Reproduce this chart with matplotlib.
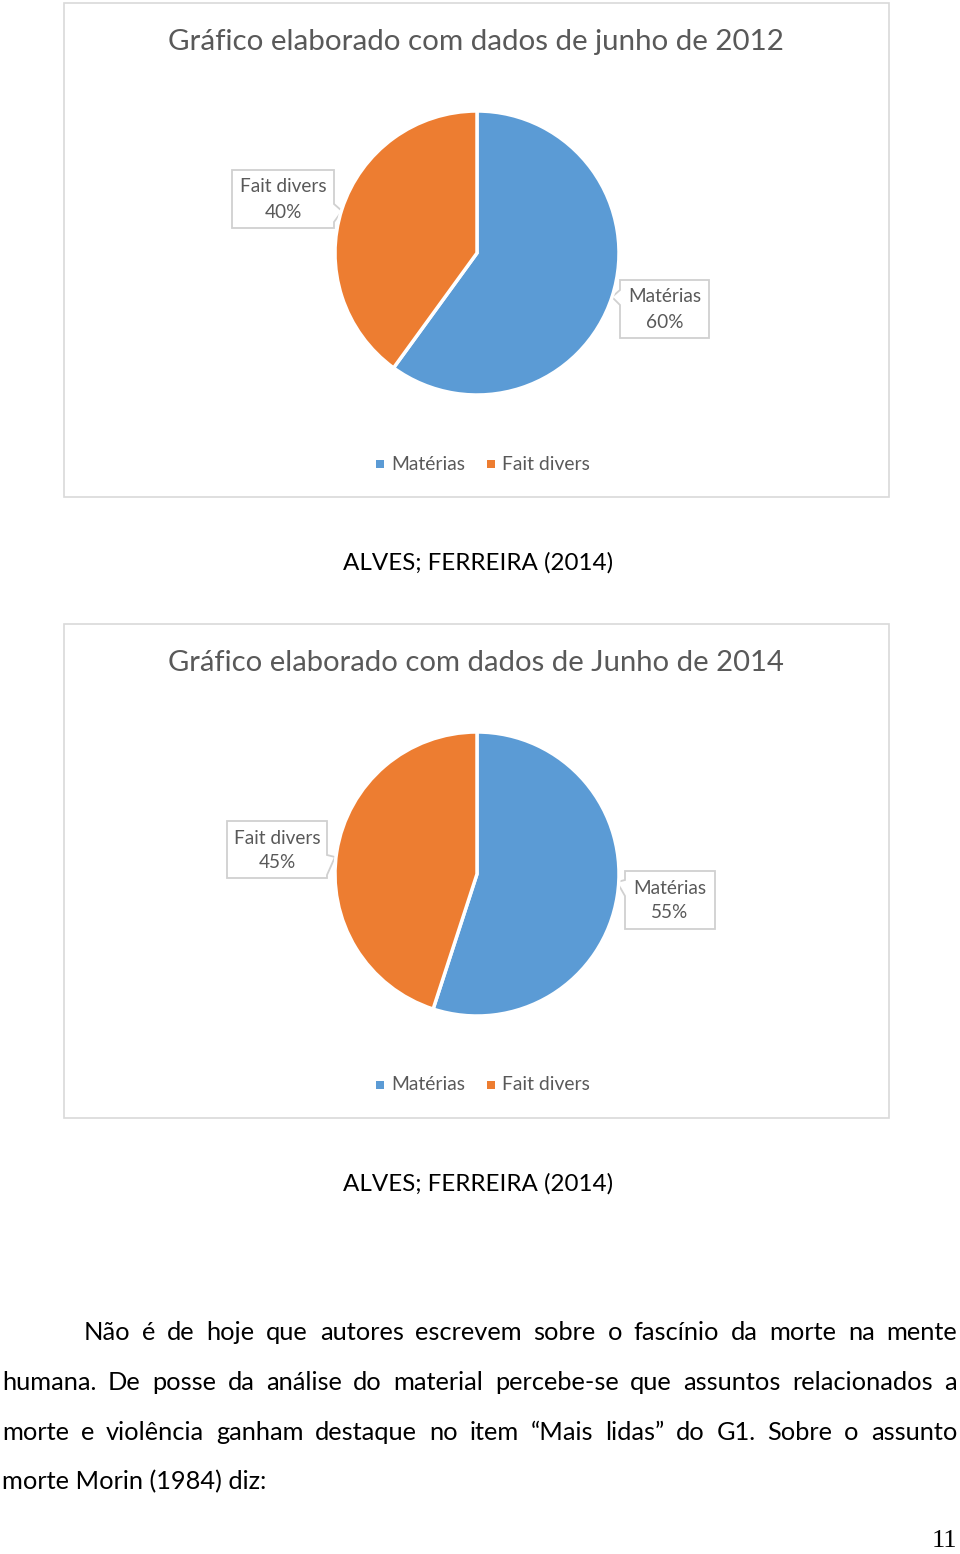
import matplotlib
matplotlib.use("Agg")
import matplotlib.pyplot as plt
from matplotlib.patches import Rectangle, Polygon

# ---------------- data ----------------
categories = ["Matérias", "Fait divers"]
values_2012 = [60, 40]
values_2014 = [55, 45]
titles = ["Gráfico elaborado com dados de junho de 2012",
          "Gráfico elaborado com dados de Junho de 2014"]
caption = "ALVES; FERREIRA (2014)"
paragraph_lines = [
    "Não é de hoje que autores escrevem sobre o fascínio da morte na mente",
    "humana. De posse da análise do material percebe-se que assuntos relacionados a",
    "morte e violência ganham destaque no item “Mais lidas” do G1. Sobre o assunto",
    "morte Morin (1984) diz:",
]
page_number = "11"

colors = ["#5B9BD5", "#ED7D31"]
FONT = "Lato"
W, H = 960, 1554

fig = plt.figure(figsize=(W / 100, H / 100), dpi=100)
bg = fig.add_axes([0, 0, 1, 1])
bg.set_xlim(0, W)
bg.set_ylim(H, 0)
bg.axis("off")
renderer = fig.canvas.get_renderer()


def fit_text(x, y, s, width, ha="left", **kw):
    t = bg.text(x, y, s, ha=ha, fontsize=10, family=FONT, **kw)
    w = t.get_window_extent(renderer).width
    t.set_fontsize(10 * width / w)
    return t


def callout(x0, y0, x1, y1, side, b0, b1, tip):
    if side == "right":
        verts = [(x0, y0), (x1, y0), (x1, b0), tip, (x1, b1), (x1, y1), (x0, y1)]
    else:
        verts = [(x0, y0), (x1, y0), (x1, y1), (x0, y1), (x0, b1), tip, (x0, b0)]
    bg.add_patch(Polygon(verts, closed=True, facecolor="white",
                         edgecolor="#D0D0D0", lw=1.3, zorder=5))


charts = [
    dict(values=values_2012, title=titles[0], top=3, cy=253,
         callouts=[
             (1, (232, 170, 334, 228), "right", (204, 222), (342, 211)),
             (0, (620, 280, 709, 338), "left", (290, 305), (612, 297)),
         ]),
    dict(values=values_2014, title=titles[1], top=624, cy=874,
         callouts=[
             (1, (227, 821, 327, 878), "right", (855, 875), (335, 857)),
             (0, (625, 871, 715, 929), "left", (880, 896), (617, 882)),
         ]),
]

R = 142
CX = 477
for ch in charts:
    top = ch["top"]
    bg.add_patch(Rectangle((64, top), 825, 494, fill=False,
                           edgecolor="#D9D9D9", lw=1.2))
    fit_text(476, top + 39, ch["title"], 617, ha="center", va="center",
             color="#595959")

    cy = ch["cy"]
    pad = 1.0
    ax = fig.add_axes([(CX - R * pad) / W, 1 - (cy + R * pad) / H,
                       2 * R * pad / W, 2 * R * pad / H])
    ax.pie(ch["values"], colors=colors, startangle=90, counterclock=False,
           wedgeprops=dict(edgecolor="white", linewidth=2.5))
    ax.set_xlim(-pad, pad)
    ax.set_ylim(-pad, pad)
    ax.set_aspect("equal")
    ax.axis("off")

    for idx, (x0, y0, x1, y1), side, (b0, b1), tip in ch["callouts"]:
        callout(x0, y0, x1, y1, side, b0, b1, tip)
        xc = (x0 + x1) / 2
        bg.text(xc, y0 + 17, categories[idx], ha="center", va="center",
                fontsize=13.7, family=FONT, color="#595959", zorder=6)
        bg.text(xc, y0 + 42, f"{ch['values'][idx]}%", ha="center",
                va="center", fontsize=13.7, family=FONT, color="#595959",
                zorder=6)

    # legend
    ly = top + 461
    for (sx, tx), cat, col in zip([(380, 391), (491, 502)], categories, colors):
        bg.add_patch(Rectangle((sx - 4, ly - 4), 8, 8, facecolor=col,
                               edgecolor="none"))
        bg.text(tx, ly, cat, ha="left", va="center", fontsize=13.9,
                family=FONT, color="#595959")

    # caption
    fit_text(478, top + 560, caption, 268, ha="center", va="center",
             color="black")

# justified paragraph
line_specs = [(84, 957, 1332, True), (2, 957, 1382, True),
              (2, 957, 1432, True), (2, None, 1482, False)]
last = fit_text(2, 1482, paragraph_lines[-1], 265, ha="left", va="center",
                color="black")
PFS = last.get_fontsize()
for s, (xl, xr, y, just) in zip(paragraph_lines[:-1], line_specs[:-1]):
    words = s.split(" ")
    objs = [bg.text(0, y, w, ha="left", va="center", fontsize=PFS,
                    family=FONT, color="black") for w in words]
    widths = [o.get_window_extent(renderer).width for o in objs]
    gap = (xr - xl - sum(widths)) / (len(words) - 1)
    x = xl
    for o, w in zip(objs, widths):
        o.set_x(x)
        x += w + gap

bg.text(944, 1541, page_number, ha="center", va="center", fontsize=19,
        family="Liberation Serif", color="black")

fig.savefig("out.png", dpi=100)
